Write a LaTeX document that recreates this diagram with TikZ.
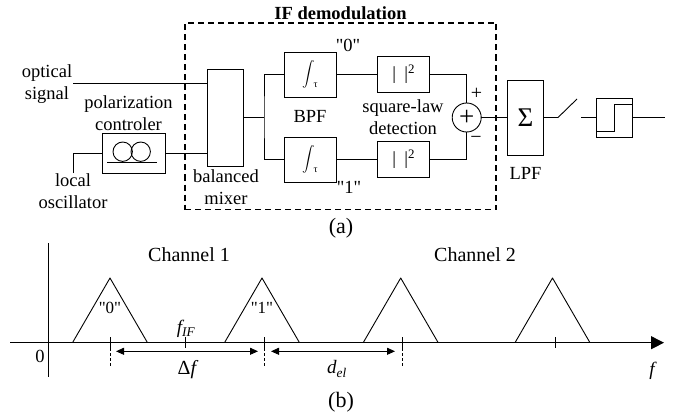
\documentclass[tikz,border=0pt]{standalone}
\usepackage{fontspec}
\setmainfont{Liberation Serif}[Ligatures=TeXOff]
\usetikzlibrary{positioning}
\usetikzlibrary{arrows.meta}
\newcommand{\intsign}{\scalebox{1.25}{\(\displaystyle\int\)}\raisebox{-10pt}{\hspace{-1pt}\fontsize{10}{10}\selectfont τ}\hspace{5pt}}
\tikzset{
    block/.style={draw,line width=0.9pt,inner sep=0pt,outer sep=0pt},
    lbl/.style={inner sep=0pt,align=center,font=\fontsize{18.5}{22}\selectfont},
    wire/.style={line width=0.9pt},
    smalltip/.tip={Triangle[length=8pt,width=7pt]},
    bigtip/.tip={Triangle[length=13pt,width=13pt]}
}

\begin{document}
\begin{tikzpicture}[x=1pt,y=-1pt]
            \useasboundingbox (0,0) rectangle (675,420);

            \node (ifbox) [draw,line width=1.4pt,dash pattern=on 6pt off 4pt,minimum width=311pt,minimum height=186.5pt] at (340.5,116.25) {};
            \node (iftitle) [lbl,font=\fontsize{18.5}{21}\selectfont\bfseries] at (340.5,13) {IF demodulation};

            \node (mixer) [block,minimum width=36pt,minimum height=97pt] at (225.5,117.5) {};
            \node (bpfa) [block,minimum width=52pt,minimum height=45pt] at (310,74.5) {\intsign};
            \node (bpfb) [block,minimum width=52pt,minimum height=45pt] at (310,159.5) {\intsign};
            \node (deta) [block,minimum width=52pt,minimum height=35.5pt,right=41.7pt of bpfa,font=\fontsize{18.5}{21}\selectfont] {|\hspace{0.45em}|\textsuperscript{2}};
            \node (detb) [block,minimum width=52pt,minimum height=35.5pt,right=41.7pt of bpfb,font=\fontsize{18.5}{21}\selectfont] {|\hspace{0.45em}|\textsuperscript{2}};
            \node (sum) [block,circle,minimum size=29pt,font=\fontsize{27}{27}\selectfont] at (466.7,117.5) {+};
            \node (sigma) [block,minimum width=35.6pt,minimum height=75pt,right=26.5pt of sum,font=\fontsize{27}{27}\selectfont] {Σ};
            \node (decide) [block,minimum width=36pt,minimum height=39pt,right=53.2pt of sigma] {};
            \node (pol) [block,minimum width=63pt,minimum height=40pt] at (133.5,153) {};

            \node (optical) [lbl] at (47,84.5) {optical\\signal};
            \node (polname) [lbl] at (128.5,113.5) {polarization\\controler};
            \node (local) [lbl] at (73,191) {local\\oscillator};
            \node (mixname) [lbl] at (226,187) {balanced\\mixer};
            \node (bpfname) [lbl] at (310,116) {BPF};
            \node (sqname) [lbl] at (403,117.5) {square-law\\detection};
            \node (lpfname) [lbl,below=12pt of sigma] {LPF};
            \node (zero) [lbl] at (348,45) {"0"};
            \node (one) [lbl] at (349,187) {"1"};
            \node (plus) [lbl,font=\fontsize{20}{20}\selectfont] at (476.5,94) {+};
            \node (minus) [lbl,font=\fontsize{20}{20}\selectfont] at (476,140) {\textminus};
            \node (capa) [lbl,font=\fontsize{22}{22}\selectfont] at (341,228) {(a)};

            \coordinate (optin) at (73,83);
            \coordinate (lofree) at (73,173);
            \coordinate (split) at (264,117.5);
            \coordinate (swa) at (558,117.5);
            \coordinate (swb) at (577,99);
            \coordinate (swc) at (581,117.5);
            \coordinate (outend) at (665,117.5);
            \coordinate (lostep) at (73,153);

            \draw[wire] (optin) -- (optin -| mixer.west);
            \draw[wire] (lofree) -- (lostep) -- (pol.west);
            \draw[wire] (pol.east) -- (pol.east -| mixer.west);
            \draw[wire] (mixer.east) -- (split);
            \draw[wire] (bpfa.west) -| (split) |- (bpfb.west);
            \draw[wire] (bpfa) -- (deta);
            \draw[wire] (bpfb) -- (detb);
            \draw[wire] (deta.east) -| (sum.north);
            \draw[wire] (detb.east) -| (sum.south);
            \draw[wire] (sum) -- (sigma);
            \draw[wire] (sigma.east) -- (swa) -- (swb);
            \draw[wire] (swc) -- (decide.west);
            \draw[wire] (decide.east) -- (outend);

            \coordinate (coila) at (122.7,151.7);
            \coordinate (coilb) at (140.7,151.7);
            \draw[wire] (coila) circle (9.7pt);
            \draw[wire] (coilb) circle (9.7pt);
            \coordinate (coilbasea) at (107,162.7);
            \coordinate (coilbaseb) at (157,162.7);
            \draw[line width=1.4pt] (coilbasea) -- (coilbaseb);

            \coordinate (stepa) at (decide.west |- 0,131);
            \coordinate (stepb) at (614.5,131);
            \coordinate (stepc) at (614.5,104.5);
            \coordinate (stepd) at (decide.east |- 0,104.5);
            \draw[wire] (stepa) -- (stepb) -- (stepc) -- (stepd);

            \coordinate (ytop) at (48,243);
            \coordinate (ybot) at (48,377);
            \coordinate (xleft) at (10,342.7);
            \coordinate (xright) at (664,342.7);
            \draw[wire] (ytop) -- (ybot);
            \draw[wire,-{bigtip}] (xleft) -- (xright);

            \foreach \peak/\tick/\name in {110/110/ta,262/264/tb,400.7/402/tc,552.5/555/td} {
                \draw[wire,line join=round] (\peak-37.5,342.7) coordinate (\name l) -- (\peak,278) coordinate (\name) -- (\peak+37.5,342.7) coordinate (\name r);
                \coordinate (\name tick) at (\tick,337);
                \coordinate (\name foot) at (\tick,348);
                \coordinate (\name end) at (\tick,367);
                \draw[wire] (\name tick) -- (\name foot);
            }
            \draw[wire,dash pattern=on 3pt off 2pt] (tafoot) -- (taend);
            \draw[wire,dash pattern=on 3pt off 2pt] (tbfoot) -- (tbend);
            \draw[wire,dash pattern=on 3pt off 2pt] (tcfoot) -- (tcend);

            \coordinate (iftick) at (185.5,337);
            \coordinate (iffoot) at (185.5,348);
            \draw[wire] (iftick) -- (iffoot);

            \coordinate (dfa) at (116,351.3);
            \coordinate (dfb) at (258,351.3);
            \coordinate (dea) at (271,351.3);
            \coordinate (deb) at (395,351.3);
            \draw[wire,{smalltip}-{smalltip}] (dfa) -- (dfb);
            \draw[wire,{smalltip}-{smalltip}] (dea) -- (deb);

            \node (orig) [lbl] at (40,356) {0};
            \node (chana) [lbl,font=\fontsize{20}{20}\selectfont] at (189,255) {Channel 1};
            \node (chanb) [lbl,font=\fontsize{20}{20}\selectfont] at (475,255) {Channel 2};
            \node (bita) [lbl,font=\fontsize{17}{17}\selectfont] at (110,308) {"0"};
            \node (bitb) [lbl,font=\fontsize{17}{17}\selectfont] at (262,308) {"1"};
            \node (fif) [lbl,font=\fontsize{19}{19}\selectfont\itshape] at (186,329) {f\textsubscript{IF}};
            \node (deltaf) [lbl,font=\fontsize{20}{20}\selectfont] at (188,370) {Δ\textit{f}};
            \node (del) [lbl,font=\fontsize{19}{19}\selectfont\itshape] at (337,369) {d\textsubscript{el}};
            \node (fname) [lbl,font=\fontsize{19}{19}\selectfont\itshape] at (652,371) {f};
            \node (capb) [lbl,font=\fontsize{22}{22}\selectfont] at (341,402) {(b)};
        \end{tikzpicture}
\end{document}
